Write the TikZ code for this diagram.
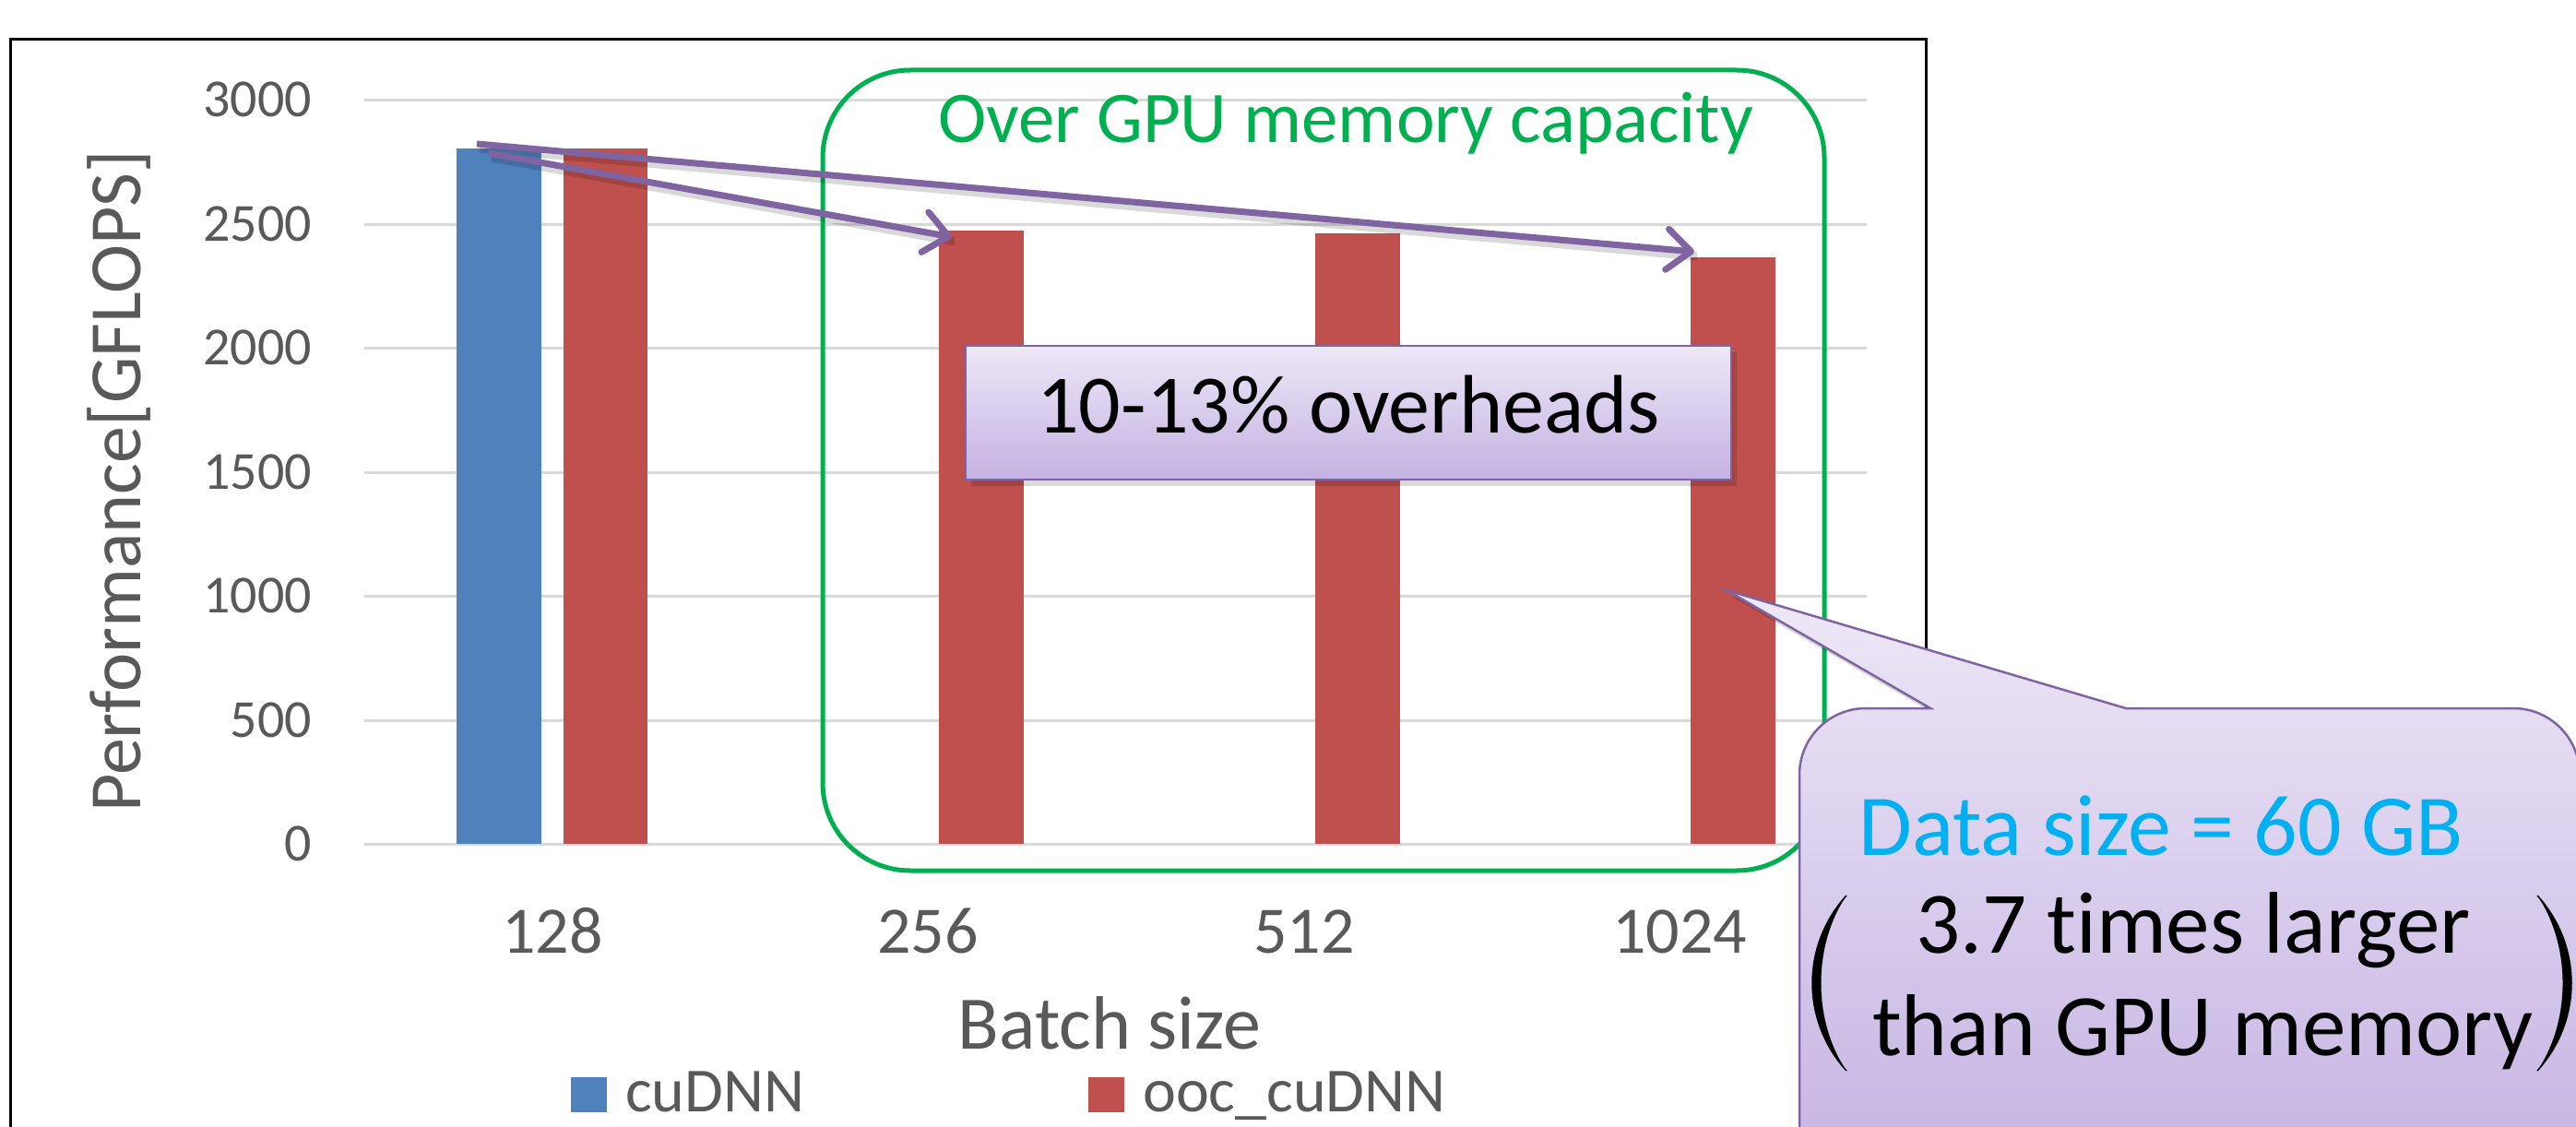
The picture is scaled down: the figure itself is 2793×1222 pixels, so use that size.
\documentclass[tikz,border=0pt]{standalone}
\usepackage{fontspec}
\setmainfont{Carlito}[Ligatures=NoCommon]
\usetikzlibrary{arrows.meta}
\definecolor{barblue}{HTML}{4F81BD}
\definecolor{barred}{HTML}{C0504D}
\definecolor{arrowpurple}{HTML}{8064A2}
\definecolor{boxgreen}{HTML}{00B050}
\definecolor{axisgray}{HTML}{595959}
\definecolor{gridgray}{HTML}{D9D9D9}
\definecolor{lavtop}{HTML}{EDE8F7}
\definecolor{lavbot}{HTML}{C4B1E2}
\definecolor{datacyan}{HTML}{00B0F0}
\newcommand\fsz[1]{\fontsize{#1}{#1}\selectfont}
\begin{document}
\begin{tikzpicture}[x=1pt,y=-1pt,
  tick/.style={font=\fsz{58}, text=axisgray, inner sep=0pt, anchor=base east},
  catlbl/.style={font=\fsz{72}, text=axisgray, inner sep=0pt, anchor=base},
  gridln/.style={draw=gridgray, line width=3pt},
  trend/.style={draw=arrowpurple, line width=7pt, -{Straight Barb[length=26pt,width=44pt,round]}},
  trendshadow/.style={draw=black, opacity=.15, line width=9pt},
  lavbox/.style={draw=arrowpurple, line width=2.5pt, top color=lavtop, bottom color=lavbot},
  calltext/.style={font=\fsz{95}, inner sep=0pt, anchor=base},
  legtext/.style={font=\fsz{68}, text=axisgray, inner sep=0pt, anchor=base west},
]
\useasboundingbox (0,0) rectangle (2793,1222);
\clip (0,0) rectangle (2793,1222);
\fill[white] (0,0) rectangle (2793,1222);

% chart frame
\draw[line width=3pt] (11,1240) -- (11,43) -- (2088,43) -- (2088,1240);

% grid lines and tick labels
\foreach \v/\yy [count=\i] in {3000/109, 2500/243.4, 2000/377.8, 1500/512.2, 1000/646.6, 500/781, 0/915.4}{
  \draw[gridln] (395,\yy) -- (2024,\yy);
  \node[tick] (tick\i) at (338,\yy+18) {\v};
}

% bars
\fill[barblue] (495,161) rectangle (587,915.4);
\fill[barred] (611,161) rectangle (702,915.4);
\fill[barred] (1018,250) rectangle (1110,915.4);
\fill[barred] (1426,253) rectangle (1518,915.4);
\fill[barred] (1833,279) rectangle (1925,915.4);

% category labels
\node[catlbl] (c128) at (599,1033) {128};
\node[catlbl] (c256) at (1006,1033) {256};
\node[catlbl] (c512) at (1414,1033) {512};
\node[catlbl] (c1024) at (1821,1033) {1024};

% axis titles
\node[font=\fsz{82}, text=axisgray, inner sep=0pt, anchor=base] (xtitle) at (1203,1137) {Batch size};
\node[font=\fsz{80}, text=axisgray, inner sep=0pt, anchor=base, rotate=90] (ytitle) at (152,522) {Performance[GFLOPS]};

% legend
\fill[barblue] (619,1168) rectangle (658,1206);
\node[legtext] (legA) at (678,1205) {cuDNN};
\fill[barred] (1180,1168) rectangle (1219,1206);
\node[legtext] (legB) at (1239,1205) {ooc\_cuDNN};

% green region
\draw[boxgreen, line width=5pt, rounded corners=95pt] (892,76) rectangle (1978,944);
\node[font=\fsz{79}, text=boxgreen, inner sep=0pt, anchor=base] (overlbl) at (1459,155) {Over GPU memory capacity};

% overhead box
\fill[black, opacity=.15] (1053,382) rectangle (1883,527);
\node[lavbox, minimum width=830pt, inner sep=0pt, text height=94pt, text depth=51pt, font=\fsz{90}] (ovh) at (1462,447.5) {10-13\% overheads};

% trend arrows
\coordinate (s1) at (517,156);
\coordinate (e1) at (1837,273);
\coordinate (s2) at (530,166);
\coordinate (e2) at (1032,257);
\draw[trendshadow] ([shift={(3,5)}]s1) -- ([shift={(3,5)}]e1);
\draw[trendshadow] ([shift={(3,5)}]s2) -- ([shift={(3,5)}]e2);
\draw[trend] (s1) -- (e1);
\draw[trend] (s2) -- (e2);

% callout
\fill[black, opacity=.15, shift={(4,6)}] (1872,640) -- (2093,768) -- (2023,768) arc[start angle=270, end angle=180, radius=72] -- (1951,1300) -- (2797,1300) -- (2797,840) arc[start angle=0, end angle=-90, radius=72] -- (2305,768) -- cycle;
\path[lavbox] (1872,640) -- (2093,768) -- (2023,768) arc[start angle=270, end angle=180, radius=72] -- (1951,1300) -- (2797,1300) -- (2797,840) arc[start angle=0, end angle=-90, radius=72] -- (2305,768) -- cycle;

\node[calltext, font=\fsz{94}, text=datacyan] (data) at (2343,927) {Data size = 60 GB};
\node[calltext] (lineA) at (2378,1033) {3.7 times larger};
\node[calltext] (lineB) at (2388,1144) {than GPU memory};

% large parentheses
\fill[black] (2002,971) .. controls (1952.7,1025) and (1952.7,1107) .. (2002,1161) .. controls (1965.3,1107) and (1965.3,1025) .. (2002,971) -- cycle;
\draw[black, line width=1.5pt] (2002,971) .. controls (1952.7,1025) and (1952.7,1107) .. (2002,1161);
\fill[black] (2751,971) .. controls (2800.3,1025) and (2800.3,1107) .. (2751,1161) .. controls (2787.7,1107) and (2787.7,1025) .. (2751,971) -- cycle;
\draw[black, line width=1.5pt] (2751,971) .. controls (2800.3,1025) and (2800.3,1107) .. (2751,1161);
\end{tikzpicture}
\end{document}
